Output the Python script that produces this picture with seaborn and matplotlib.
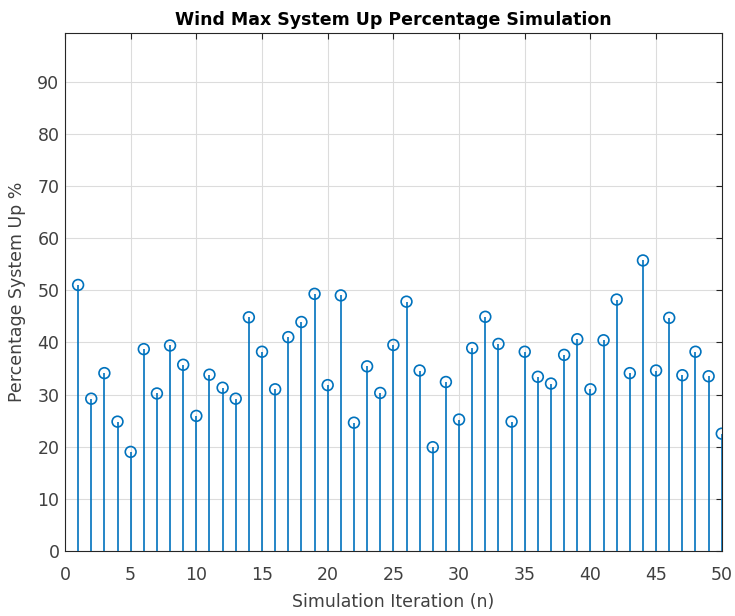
import matplotlib
matplotlib.use("Agg")
import matplotlib.pyplot as plt
import seaborn as sns
import numpy as np
import pandas as pd

iterations = list(range(1, 51))
percent_up = [51.0, 29.2, 34.1, 24.8, 19.0, 38.7, 30.2, 39.4, 35.7, 25.9,
              33.8, 31.3, 29.2, 44.8, 38.2, 31.0, 41.0, 43.9, 49.3, 31.8,
              49.0, 24.6, 35.4, 30.3, 39.5, 47.8, 34.6, 19.9, 32.4, 25.2,
              38.9, 44.9, 39.7, 24.8, 38.2, 33.4, 32.1, 37.6, 40.6, 31.0,
              40.4, 48.2, 34.1, 55.7, 34.6, 44.7, 33.7, 38.2, 33.5, 22.5]
x_ticks = [0, 5, 10, 15, 20, 25, 30, 35, 40, 45, 50]
y_ticks = [0, 10, 20, 30, 40, 50, 60, 70, 80, 90]

title = "Wind Max System Up Percentage Simulation"
xlabel = "Simulation Iteration (n)"
ylabel = "Percentage System Up %"

sns.set_theme(style="white")
plt.rcParams['font.family'] = ['DejaVu Sans']

df = pd.DataFrame({"n": iterations, "pct": percent_up})
color = "#0072BD"

fig = plt.figure(figsize=(7.35, 6.16), dpi=100)
ax = fig.add_axes([0.0884, 0.1055, 0.8936, 0.8409])

ax.vlines(df["n"], 0, df["pct"], color=color, linewidth=1.2, zorder=3)
sns.scatterplot(data=df, x="n", y="pct", ax=ax, marker="o", s=60,
                facecolor="none", edgecolor=color, linewidth=1.2, zorder=4)

ax.set_xlim(0, 50)
ax.set_ylim(0, 99.3)
ax.set_xticks(x_ticks)
ax.set_yticks(y_ticks)
ax.grid(True, color="#dcdcdc", linewidth=0.8)
ax.set_axisbelow(True)
ax.tick_params(direction="in", length=4, width=0.8, colors="#262626",
               labelsize=12.5, top=True, right=True, labelcolor="#404040")
ax.tick_params(axis="x", pad=10.5)
ax.tick_params(axis="y", pad=4)
for s in ax.spines.values():
    s.set_color("#262626")
    s.set_linewidth(0.8)

ax.set_title(title, fontsize=12.5, color="#000000", fontweight="bold", pad=6)
ax.set_xlabel(xlabel, fontsize=12.5, color="#404040", labelpad=7)
ax.set_ylabel(ylabel, fontsize=12.5, color="#404040", labelpad=8)

fig.savefig("out.png", dpi=100)
